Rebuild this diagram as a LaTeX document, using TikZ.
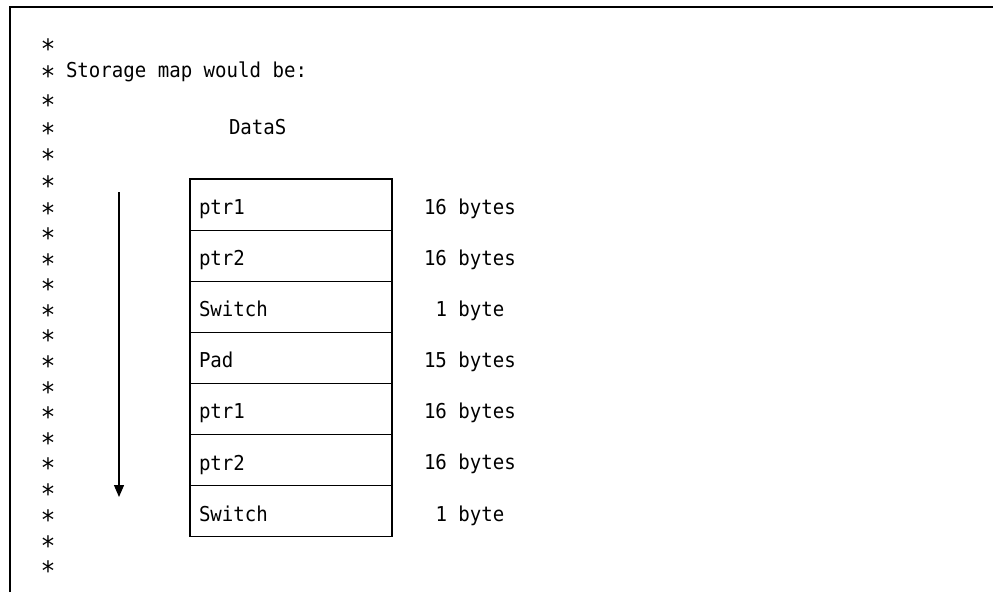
\documentclass[tikz,border=0pt]{standalone}
\usepackage{fontspec}
\newfontfamily\codefont[FakeStretch=0.93]{DejaVu Sans Mono}
\usetikzlibrary{arrows.meta}
\begin{document}
\begin{tikzpicture}[x=1pt,y=-1pt,
  every node/.style={inner sep=0pt,outer sep=0pt,font=\codefont\fontsize{20.5}{24}\selectfont},
  txt/.style={anchor=base west},
  star/.style={anchor=base},
  cell/.style={draw,line width=1.2pt,minimum width=202pt,minimum height=51.1pt},
  flow/.style={line width=1.3pt,-{Triangle[length=12pt,width=10pt]}}]
\useasboundingbox (0,0) rectangle (993,592);
% frame
\draw[line width=1.5pt] (10,592) -- (10,7) -- (993,7);
% comment column
\foreach \y [count=\k] in {43,70,99,127,153,180,207,232,258,283,309,334,360,386,411,437,462,488,514,540,565}
  \node[star] (s\k) at (48,\y+7.5) {\raisebox{-8pt}{\scalebox{1.3}{*}}};
\node[txt] (title) at (66,77.5) {Storage map would be:};
\node[txt] (name) at (229,134.5) {DataS};
% storage cells
\foreach \n/\t [count=\i from 0] in {c1/ptr1,c2/ptr2,c3/Switch,c4/Pad,c5/ptr1,c6/ptr2,c7/Switch}{
  \node[cell] (\n) at (291,{204.6+51.1*\i}) {};
  \node[txt] (\n t) at (199,{214.5+51.1*\i}) {\t};
}
% sizes
\node[txt] (b1) at (424,214.5) {16 bytes};
\node[txt] (b2) at (424,265.5) {16 bytes};
\node[txt] (b3) at (435.5,316.5) {1 byte};
\node[txt] (b4) at (424,367.5) {15 bytes};
\node[txt] (b5) at (424,418.5) {16 bytes};
\node[txt] (b6) at (424,469.5) {16 bytes};
\node[txt] (b7) at (435.5,521.5) {1 byte};
% direction of increasing offset
\coordinate (atop) at (119,192);
\coordinate (abot) at (119,497);
\draw[flow] (atop) -- (abot);
\end{tikzpicture}
\end{document}
